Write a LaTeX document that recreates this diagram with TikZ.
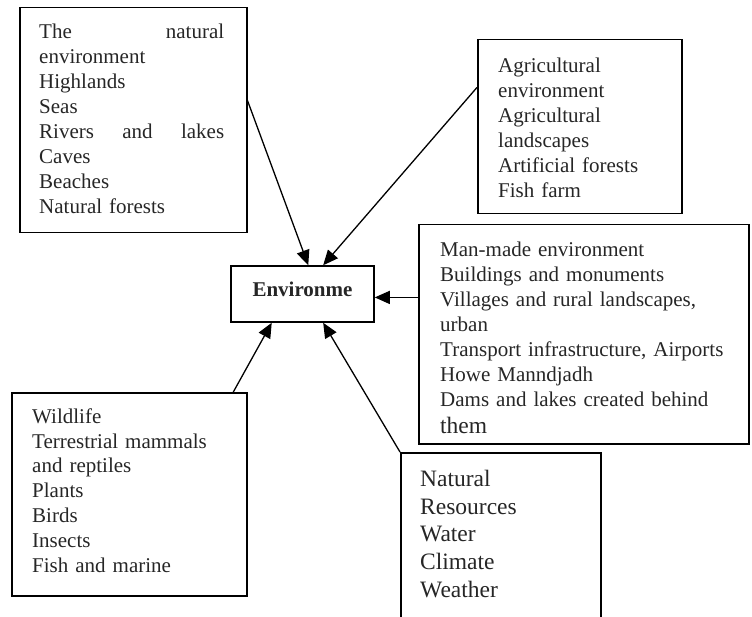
\documentclass[tikz,border=0pt]{standalone}
\usepackage{fontspec}
\setmainfont{Liberation Serif}
\usetikzlibrary{arrows.meta,calc}
\newcommand\myfs{\rule{0pt}{18pt}}
\newcommand\jline[1]{\leavevmode\hbox to 185pt{#1}}
\begin{document}
\begin{tikzpicture}[x=1pt,y=-1pt,
  box/.style={draw=black, line width=1.5pt, rectangle, inner sep=0pt, anchor=north west},
  txt/.style={anchor=north west, inner sep=0pt, text=black!85, align=left, text width=#1},
  txt/.default=320pt,
  f21/.style={font=\fontsize{21}{25}\selectfont},
  f23/.style={font=\fontsize{23.5}{27.8}\selectfont},
  conn/.style={line width=1.3pt, -{Triangle[length=15pt,width=13pt]}}]
\clip (0,0) rectangle (752,617);
\useasboundingbox (0,0) rectangle (752,617);

% boxes
\node[box, minimum width=227pt, minimum height=225pt] (tl) at (19,7) {};
\node[box, minimum width=204pt, minimum height=174pt] (tr) at (477,39) {};
\node[box, minimum width=330pt, minimum height=219pt] (rb) at (418,224) {};
\node[box, minimum width=235pt, minimum height=203pt] (bl) at (11,392) {};
\node[box, minimum width=200pt, minimum height=200pt] (br) at (400,452) {};
\node[box, anchor=center, minimum width=143pt, minimum height=56pt,
      font=\bfseries\fontsize{21}{25}\selectfont, text height=14pt, text depth=8pt,
      text=black!85] (env) at (302.5,294) {Environme};

% texts
\node[txt=200pt, f21] (tltext) at (39,20.3) {\myfs\jline{The\hfill natural}\\
environment\\ Highlands\\ Seas\\ \jline{Rivers\hfill and\hfill lakes}\\
Caves\\ Beaches\\ Natural forests};
\node[txt=180pt, f21] (trtext) at (498,54) {\myfs Agricultural\\ environment\\
Agricultural\\ landscapes\\ Artificial forests\\ Fish farm};
\node[txt=310pt, f21] (rbtext) at (440,238) {\myfs Man-made environment\\
Buildings and monuments\\ Villages and rural landscapes,\\ urban\\
Transport infrastructure, Airports\\ Howe Manndjadh\\
Dams and lakes created behind\\[2pt] {\fontsize{23.5}{27}\selectfont them}};
\node[txt=210pt, font=\fontsize{21}{24.8}\selectfont] (bltext) at (32,405) {\myfs Wildlife\\
Terrestrial mammals\\ and reptiles\\ Plants\\ Birds\\ Insects\\ Fish and marine};
\node[txt=180pt, f23] (brtext) at (420,468) {\myfs Natural\\ Resources\\ Water\\
Climate\\ Weather};

% connectors
\coordinate (s1) at ($(tl.north east)!0.413!(tl.south east)$);
\coordinate (e1) at ($(env.north west)!0.54!(env.north east)$);
\draw[conn] (s1) -- (e1);
\coordinate (s2) at ($(tr.north west)!0.276!(tr.south west)$);
\coordinate (e2) at ($(env.north west)!0.643!(env.north east)$);
\draw[conn] (s2) -- (e2);
\coordinate (s3) at ($(rb.north west)!0.333!(rb.south west)$);
\draw[conn] (s3) -- (env.east |- s3);
\coordinate (s4) at ($(bl.north west)!0.94!(bl.north east)$);
\coordinate (e4) at ($(env.south west)!0.287!(env.south east)$);
\draw[conn] (s4) -- (e4);
\coordinate (e5) at ($(env.south west)!0.643!(env.south east)$);
\draw[conn] (br.north west) -- (e5);
\end{tikzpicture}
\end{document}
